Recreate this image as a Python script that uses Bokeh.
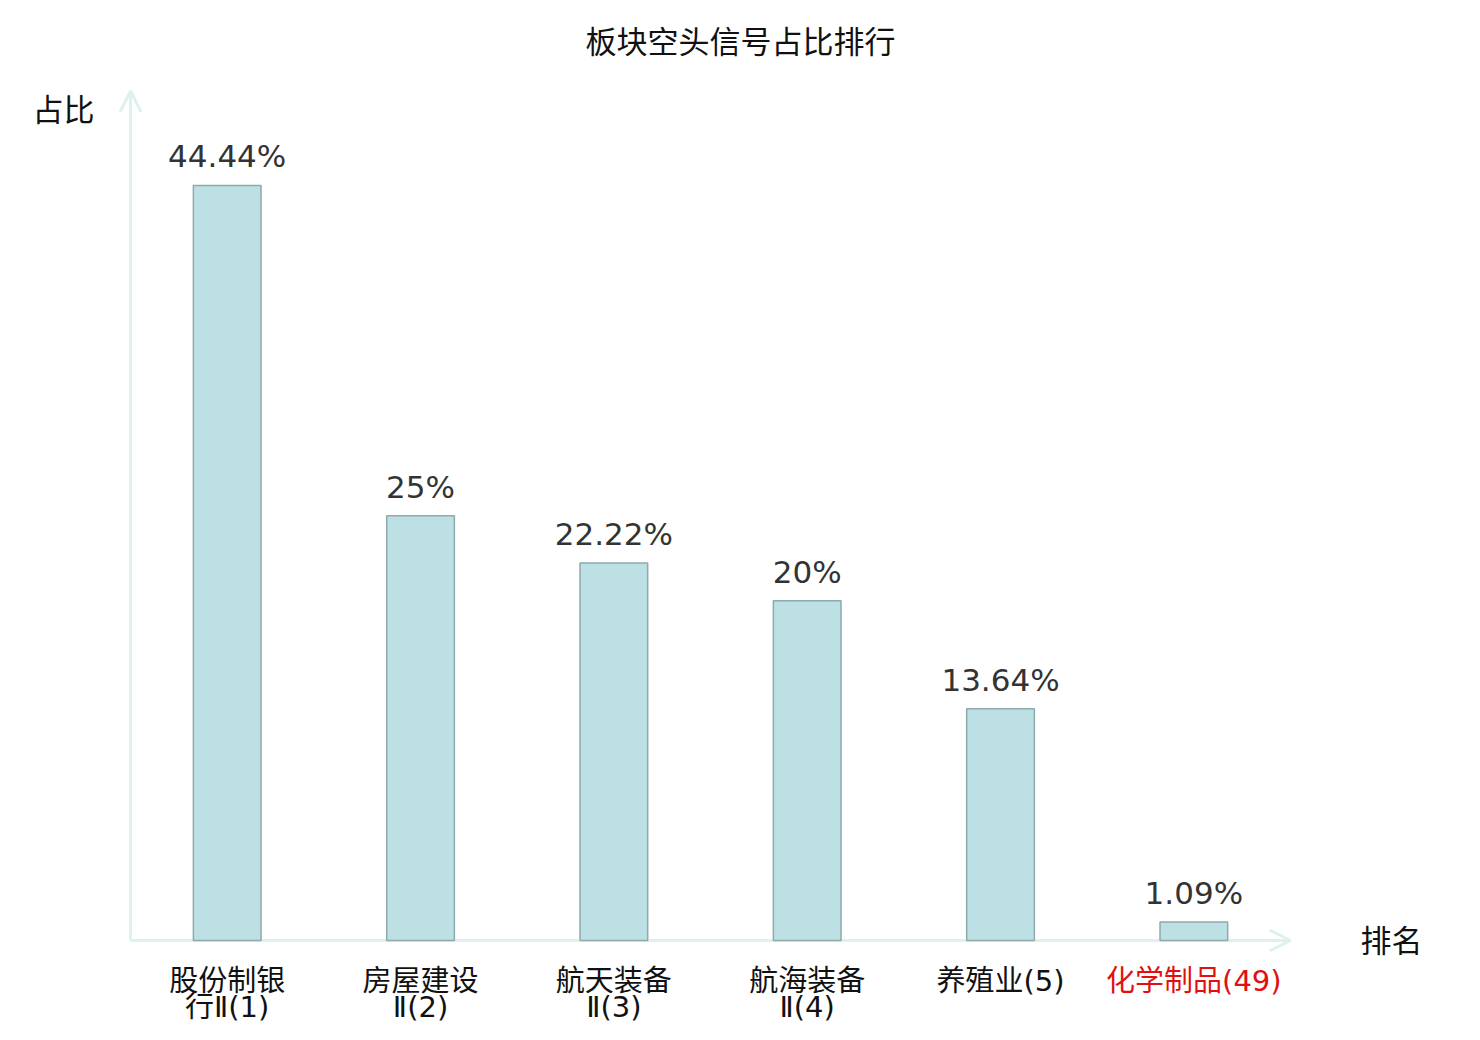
from bokeh.plotting import figure
from bokeh.models import Range1d, ColumnDataSource, Arrow, OpenHead, Label
from bokeh.core.properties import value
from bokeh.embed import file_html
from bokeh.resources import INLINE

# ---- data ----
categories = ["股份制银\n行Ⅱ(1)", "房屋建设\nⅡ(2)", "航天装备\nⅡ(3)", "航海装备\nⅡ(4)", "养殖业(5)", "化学制品(49)"]
ratios = [44.44, 25, 22.22, 20, 13.64, 1.09]
label_colors = ["#111111", "#111111", "#111111", "#111111", "#111111", "#e01010"]
title_text = "板块空头信号占比排行"
y_title = "占比"
x_title = "排名"
y_max = 50

NUM_FONT = "DejaVu Sans, Noto Sans CJK SC"
CJK_FONT = "Noto Sans CJK SC"

def fmt(v):
    s = f"{v:.2f}".rstrip("0").rstrip(".")
    return s + "%"

W, H = 1464, 1024
px_per_x = 193.33
px_per_y = 16.99
x0_px = 226.7   # pixel position of first category center in frame
y0_px = 940.0   # pixel position of y=0 from top

xs = list(range(len(categories)))
line1 = [c.split("\n")[0] for c in categories]
line2 = [c.split("\n")[1] if "\n" in c else "" for c in categories]
src = ColumnDataSource(dict(
    x=xs,
    top=ratios,
    lab=[fmt(v) for v in ratios],
    l1=line1,
    l2=line2,
    col=label_colors,
    zero=[0] * len(xs),
))

p = figure(width=W, height=H, output_backend="svg", toolbar_location=None,
           x_axis_location=None, y_axis_location=None, min_border=0,
           x_range=Range1d(-x0_px / px_per_x, (W - x0_px) / px_per_x),
           y_range=Range1d(-(H - y0_px) / px_per_y, y0_px / px_per_y))
p.outline_line_color = None
p.xgrid.visible = False
p.ygrid.visible = False
p.background_fill_color = "white"
p.border_fill_color = "white"

axis_color = "#dff1ef"
x_start = xs[0] - 0.5
x_end = xs[-1] + 0.5
p.add_layout(Arrow(x_start=x_start, y_start=0, x_end=x_end, y_end=0,
                   line_color=axis_color, line_width=3,
                   end=OpenHead(size=21, line_color=axis_color, line_width=3), level="underlay"))
p.add_layout(Arrow(x_start=x_start, y_start=0, x_end=x_start, y_end=y_max,
                   line_color=axis_color, line_width=3,
                   end=OpenHead(size=21, line_color=axis_color, line_width=3), level="underlay"))

p.vbar(x="x", top="top", bottom=0, width=0.35, source=src,
       fill_color="#bce0e3", line_color="#8eaaaa", line_width=1.5)

p.text(x="x", y="top", text="lab", source=src, text_align="center",
       text_baseline="middle", y_offset=-29, text_font=value(NUM_FONT),
       text_font_size="31px", text_color="#333333")

p.text(x="x", y="zero", text="l1", source=src, text_align="center",
       text_baseline="middle", y_offset=40, text_font=value(NUM_FONT),
       text_font_size="29px", text_color="col")
p.text(x="x", y="zero", text="l2", source=src, text_align="center",
       text_baseline="middle", y_offset=66, text_font=value(NUM_FONT),
       text_font_size="29px", text_color="col")

p.add_layout(Label(x=740, y=H - 39, x_units="screen", y_units="screen",
                   text=title_text, text_align="center", text_baseline="middle",
                   text_font=CJK_FONT, text_font_size="31px", text_color="#111111"))
p.add_layout(Label(x=63, y=H - 107, x_units="screen", y_units="screen",
                   text=y_title, text_align="center", text_baseline="middle",
                   text_font=CJK_FONT, text_font_size="31px", text_color="#111111"))
p.add_layout(Label(x=1391, y=H - 938, x_units="screen", y_units="screen",
                   text=x_title, text_align="center", text_baseline="middle",
                   text_font=CJK_FONT, text_font_size="31px", text_color="#111111"))

open("out.html", "w").write(file_html(p, INLINE))
